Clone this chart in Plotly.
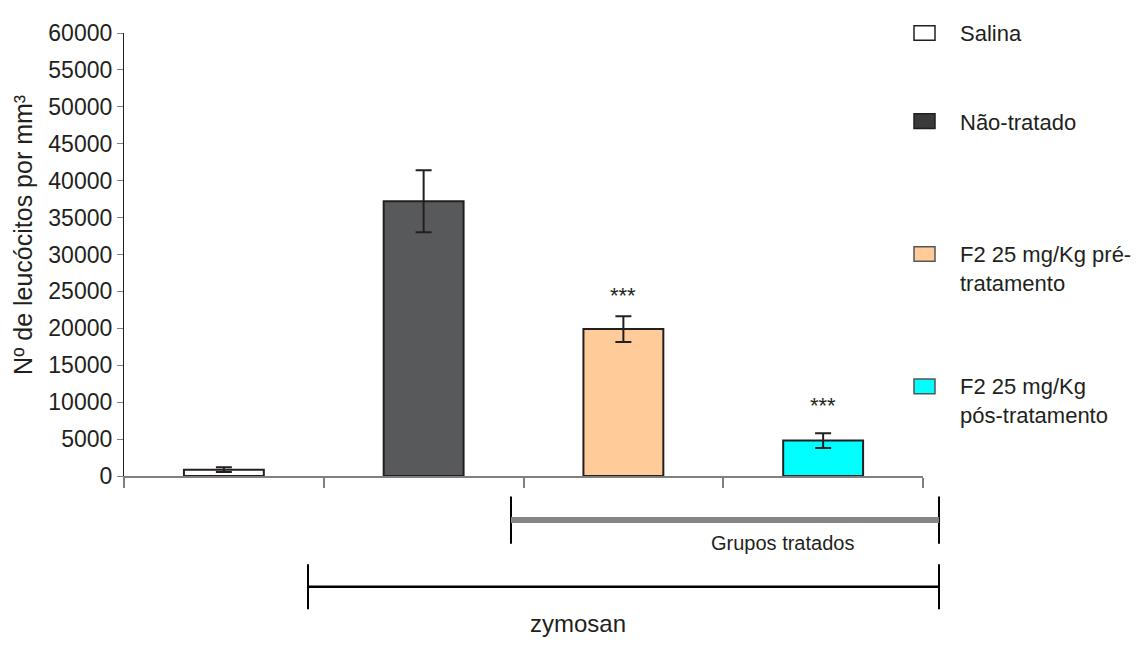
import plotly.graph_objects as go

# ---- data ----
categories = ["Salina", "Não-tratado", "F2 25 mg/Kg pré-tratamento", "F2 25 mg/Kg pós-tratamento"]
values = [850, 37200, 19900, 4800]
errors = [320, 4200, 1750, 1000]
bar_colors = ["#FFFFFF", "#58595B", "#FFCC99", "#00FFFF"]
legend_swatch_colors = ["#FFFFFF", "#3A3A3A", "#FFCC99", "#00FFFF"]
legend_labels = ["Salina", "Não-tratado", "F2 25 mg/Kg pré-<br>tratamento", "F2 25 mg/Kg<br>pós-tratamento"]
significance = ["", "", "***", "***"]
y_ticks = list(range(0, 60001, 5000))

FONT = "Arial, Liberation Sans, sans-serif"
TXT = "#231F20"

# plot area pixel geometry (page pixels); the page body has an 8px margin
PAGE_OFF = 8
L, R, T, B = 124, 923, 24, 476
W, H = 1144 - 2 * PAGE_OFF, 650 - 2 * PAGE_OFF


def px_x(p):
    return (p - L) / (R - L)


def px_y(p):
    return (B - p) / (B - T)


fig = go.Figure()
fig.add_trace(go.Bar(
    x=categories, y=values, width=0.4,
    marker=dict(color=bar_colors, line=dict(color=TXT, width=2)),
    error_y=dict(type="data", array=errors, visible=True, color=TXT, thickness=2, width=8),
    showlegend=False, hoverinfo="x+y",
))

shapes = []
annotations = []

# legend (manual, to reproduce spacing)
legend_swatch_y = [24, 114, 249.5, 384.5]
legend_text_y = [24, 115, 264.5, 399.5]
for lab, col, sy, ty in zip(legend_labels, legend_swatch_colors, legend_swatch_y, legend_text_y):
    shapes.append(dict(type="rect", xref="paper", yref="paper",
                       x0=px_x(914), x1=px_x(935), y0=px_y(sy + 7.5), y1=px_y(sy - 7.5),
                       fillcolor=col, line=dict(color=TXT if col in ("#FFFFFF", "#3A3A3A") else "#555555", width=1.5)))
    annotations.append(dict(text=lab, xref="paper", yref="paper", x=px_x(958), y=px_y(ty),
                            xanchor="left", yanchor="middle", align="left", showarrow=False,
                            font=dict(family=FONT, size=22, color=TXT)))

# significance stars
star_px = [None, None, 292, 404]
for cat, s, spy in zip(categories, significance, star_px):
    if s:
        annotations.append(dict(text=s, x=cat, xref="x", yref="paper", y=px_y(spy),
                                xanchor="center", yanchor="middle", showarrow=False,
                                font=dict(family=FONT, size=22, color=TXT)))

# y-axis title
annotations.append(dict(text="Nº de leucócitos por mm³", xref="paper", yref="paper",
                        x=px_x(23), y=px_y(230), textangle=-90, showarrow=False,
                        xanchor="center", yanchor="middle",
                        font=dict(family=FONT, size=25, color=TXT)))

# bottom brackets
# Grupos tratados
gx0, gx1 = 511, 939
shapes += [
    dict(type="line", xref="paper", yref="paper", x0=px_x(gx0), x1=px_x(gx0), y0=px_y(497), y1=px_y(545),
         line=dict(color="#000000", width=2)),
    dict(type="line", xref="paper", yref="paper", x0=px_x(gx1), x1=px_x(gx1), y0=px_y(497), y1=px_y(545),
         line=dict(color="#000000", width=2)),
    dict(type="line", xref="paper", yref="paper", x0=px_x(gx0), x1=px_x(gx1), y0=px_y(521), y1=px_y(521),
         line=dict(color="#858585", width=6)),
]
annotations.append(dict(text="Grupos tratados", xref="paper", yref="paper", x=px_x(782), y=px_y(544),
                        xanchor="center", yanchor="middle", showarrow=False,
                        font=dict(family=FONT, size=20, color=TXT)))
# zymosan
zx0, zx1 = 308, 939
shapes += [
    dict(type="line", xref="paper", yref="paper", x0=px_x(zx0), x1=px_x(zx0), y0=px_y(566), y1=px_y(612),
         line=dict(color="#000000", width=2)),
    dict(type="line", xref="paper", yref="paper", x0=px_x(zx1), x1=px_x(zx1), y0=px_y(566), y1=px_y(612),
         line=dict(color="#000000", width=2)),
    dict(type="line", xref="paper", yref="paper", x0=px_x(zx0), x1=px_x(zx1), y0=px_y(589), y1=px_y(589),
         line=dict(color="#000000", width=2.5)),
]
annotations.append(dict(text="zymosan", xref="paper", yref="paper", x=px_x(578), y=px_y(627),
                        xanchor="center", yanchor="middle", showarrow=False,
                        font=dict(family=FONT, size=24, color=TXT)))

fig.update_layout(
    width=W, height=H, autosize=False,
    margin=dict(l=L - PAGE_OFF, r=W - (R - PAGE_OFF), t=T - PAGE_OFF, b=H - (B - PAGE_OFF), pad=0),
    paper_bgcolor="white", plot_bgcolor="white",
    font=dict(family=FONT, color=TXT),
    shapes=shapes, annotations=annotations,
    xaxis=dict(type="category", range=[-0.5, 3.5], showticklabels=False,
               ticks="outside", tickson="boundaries", ticklen=10, tickcolor="#808080", tickwidth=1.5,
               showline=True, linecolor="#808080", linewidth=1.5, showgrid=False, zeroline=False,
               fixedrange=True),
    yaxis=dict(range=[0, 60000], tickmode="array", tickvals=y_ticks, ticktext=[str(v) for v in y_ticks],
               ticks="outside", ticklen=6, tickcolor="#808080", tickwidth=1.2,
               showline=True, linecolor=TXT, linewidth=1.2, showgrid=False, zeroline=False,
               tickfont=dict(family=FONT, size=23, color=TXT), fixedrange=True),
    bargap=0.6,
)

fig.write_html("out.html", config={"displayModeBar": False})
